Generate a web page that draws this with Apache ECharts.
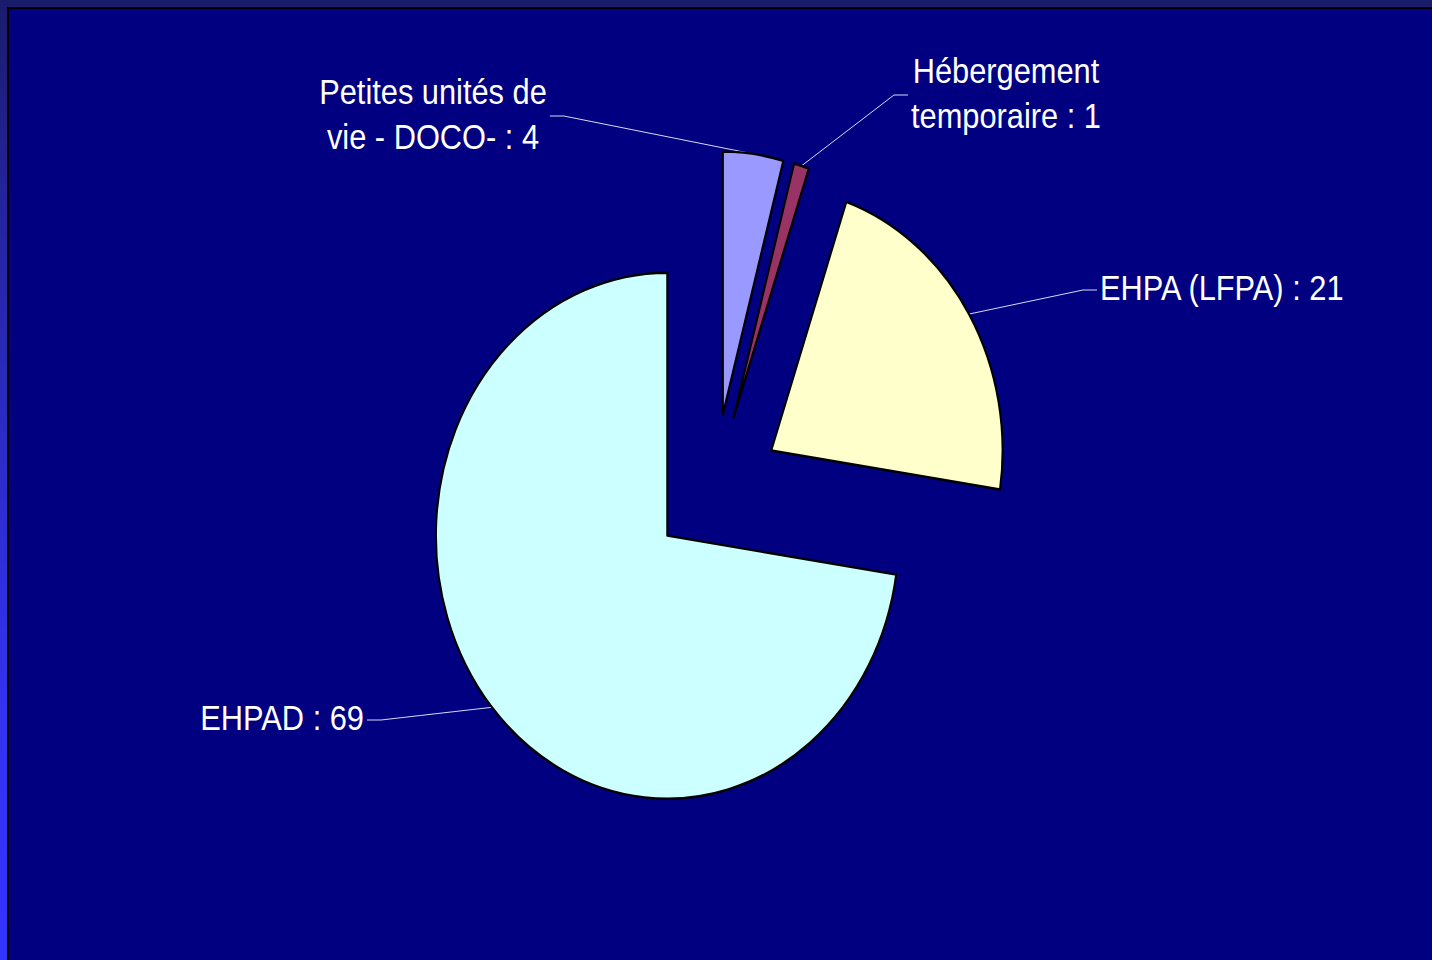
<!DOCTYPE html>
<html>
<head>
<meta charset="utf-8">
<script src="https://cdn.jsdelivr.net/npm/echarts@6/dist/echarts.min.js"></script>
<style>
html,body{margin:0;padding:0;width:1432px;height:960px;overflow:hidden;background:#000080;}
#topbar{position:absolute;left:0;top:0;width:1432px;height:7px;background:#1b1b6c;}
#leftbar{position:absolute;left:0;top:0;width:7px;height:960px;background:linear-gradient(to bottom,#1b1b6c 0%,#2424a0 22%,#2c2cc8 47%,#3232ee 72%,#3333ff 100%);}
#inner{position:absolute;left:7px;top:7px;width:1425px;height:953px;box-sizing:border-box;border-left:2px solid #000;border-top:2px solid #000;background:#000080;}
#chart{position:absolute;left:0;top:0;width:1627.3px;height:960px;transform:scaleX(0.88);transform-origin:0 0;}
</style>
</head>
<body>
<div id="topbar"></div>
<div id="leftbar"></div>
<div id="inner"></div>
<div id="chart"></div>
<script>
// ---- data ----
const categories = ['Petites unités de\nvie - DOCO-', 'Hébergement\ntemporaire', 'EHPA (LFPA)', 'EHPAD'];
const values = [4, 1, 21, 69];
const colors = ['#9999FF', '#993366', '#FFFFCC', '#CCFFFF'];

// ---- layout (picture pixels) ----
const S = 0.88;                       // horizontal squeeze of the picture
const CENTER = [714 / S, 490];
const RADIUS = 263;
const OFFSETS = [76, 76, 76, 70];     // how far each slice is pulled out
const labelPlaces = [[433, 114, 'center'], [1006, 93, 'center'], [1100, 288, 'left'], [364, 718, 'right']];
const ELBOW = 14 / S, GAP = 3 / S, LINE_DY = 2;

// explosion shift of each slice, from the data (same rule ECharts uses for selectedOffset)
const total = values.reduce((a, b) => a + b, 0);
let cum = 0;
const shifts = values.map((v, i) => {
  const mid = -Math.PI / 2 + (cum + v / 2) / total * Math.PI * 2;
  cum += v;
  return [Math.cos(mid) * OFFSETS[i], Math.sin(mid) * OFFSETS[i]];
});

const chart = echarts.init(document.getElementById('chart'), null, {renderer: 'svg'});

const labelFont = {
  color: '#ffffff',
  fontFamily: '"Liberation Sans", Arial, sans-serif',
  fontSize: 35,
  lineHeight: 45
};

const pieBase = {
  type: 'pie',
  center: CENTER,
  radius: RADIUS,
  startAngle: 90,
  clockwise: true,
  silent: true,
  emphasis: {disabled: true, scale: false}
};

// one series per exploded slice (each slice keeps its own pull-out distance)
const sliceSeries = categories.map((_, k) => Object.assign({}, pieBase, {
  selectedMode: 'multiple',
  selectedOffset: OFFSETS[k],
  data: categories.map((name, i) => ({
    name: name,
    value: values[i],
    selected: i === k,
    itemStyle: i === k
      ? {color: colors[i], borderColor: '#000', borderWidth: 2.4}
      : {color: 'rgba(0,0,0,0)', borderWidth: 0}
  })),
  select: {itemStyle: {}},
  label: {show: false},
  labelLine: {show: false}
}));

const labelSeries = Object.assign({}, pieBase, {
  avoidLabelOverlap: false,
  data: categories.map((name, i) => ({name: name, value: values[i]})),
  itemStyle: {color: 'rgba(0,0,0,0)', borderWidth: 0},
  label: Object.assign({show: true, position: 'outside', formatter: '{b} : {c}', align: 'center'}, labelFont),
  labelLine: {show: true, length: 20, length2: 10, smooth: false, lineStyle: {color: '#e8e8ff', width: 1}},
  labelLayout: function (p) {
    const i = p.dataIndex;
    const pl = labelPlaces[i];
    const w = p.labelRect.width;
    const x = pl[0] / S, y = pl[1];
    const ly = y + LINE_DY;
    const left = pl[2] === 'center' ? x - w / 2 : (pl[2] === 'left' ? x : x - w);
    const right = left + w;
    const a0 = p.labelLinePoints ? p.labelLinePoints[0] : [x, y];
    const anchor = [a0[0] + shifts[i][0], a0[1] + shifts[i][1]];
    let end, elbow;
    if (anchor[0] < left) {
      end = [left - GAP, ly];
      elbow = [end[0] - ELBOW, ly];
    } else {
      end = [right + GAP, ly];
      elbow = [end[0] + ELBOW, ly];
    }
    return {
      x: x, y: y, align: pl[2], verticalAlign: 'middle',
      labelLinePoints: [anchor, elbow, end]
    };
  }
});

chart.setOption({
  backgroundColor: 'transparent',
  animation: false,
  series: sliceSeries.concat([labelSeries])
});
</script>
</body>
</html>
